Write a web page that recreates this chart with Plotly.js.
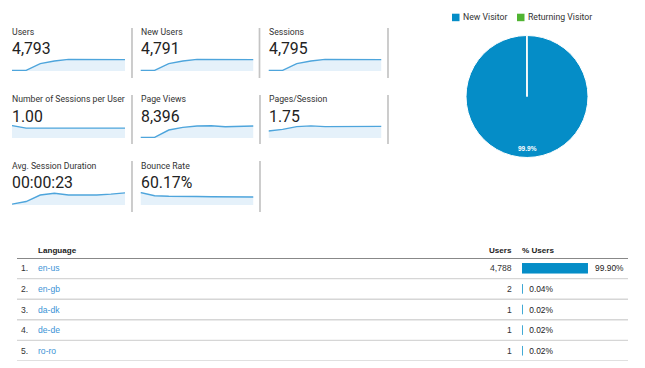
<!DOCTYPE html>
<html><head><meta charset="utf-8">
<script src="https://cdn.plot.ly/plotly-3.0.1.min.js"></script>
<style>html,body{margin:0;padding:0;background:#fff}#chart{width:645px;height:368px}</style>
</head><body><div id="chart"></div>
<script>
// ---------------- data ----------------
const metricLabels = ['Users', 'New Users', 'Sessions', 'Number of Sessions per User', 'Page Views', 'Pages/Session', 'Avg. Session Duration', 'Bounce Rate'];
const metricValues = ['4,793', '4,791', '4,795', '1.00', '8,396', '1.75', '00:00:23', '60.17%'];
const sparkX = [0, 1, 2, 3, 4, 5, 6, 7, 8];
const usersSeries = [42, 42, 466, 636, 742, 742, 700, 700, 721];
const newUsersSeries = [42, 42, 466, 636, 742, 742, 700, 699, 722];
const sessionsSeries = [42, 42, 467, 636, 742, 743, 700, 700, 723];
const sessionsPerUserSeries = [1.02, 1.00, 1.00, 1.00, 1.00, 1.00, 1.00, 1.00, 1.00];
const pageViewsSeries = [71, 71, 850, 1133, 1275, 1310, 1204, 1204, 1278];
const pagesPerSessionSeries = [1.05, 1.30, 1.70, 1.82, 1.70, 1.70, 1.70, 1.70, 1.74];
const avgDurationSeries = [2, 8, 23, 27, 23, 23, 23, 25, 28];
const bounceRateSeries = [75, 62, 60, 58, 59, 58, 58, 57, 57];

const visitorTypes = ['New Visitor', 'Returning Visitor'];
const visitorCounts = [4791, 4];
const visitorColors = ['#058dc7', '#50b432'];

const languages = ['en-us', 'en-gb', 'da-dk', 'de-de', 'ro-ro'];
const languageUsers = [4788, 2, 1, 1, 1];
const languagePct = [99.90, 0.04, 0.02, 0.02, 0.02];

// ---------------- layout helpers ----------------
const W = 645, H = 368;
const px = x => x / W, py = y => 1 - y / H;
const series = [usersSeries, newUsersSeries, sessionsSeries, sessionsPerUserSeries, pageViewsSeries, pagesPerSessionSeries, avgDurationSeries, bounceRateSeries];
const colX = [12, 140.5, 268.5];
const sparkW = 113;
const rowSpark = [[57, 71], [125, 138], [192, 205]];
const rowLabelY = [32, 98.5, 165.5];
const rowValueY = [48.5, 116.5, 183];
const sparkRanges = [[0, 890], [0, 890], [0, 890], [0.92, 1.025], [0, 1385], [0, 1.95], [0, 30], [25, 77]];

const data = [];
const layout = {
  width: W, height: H, margin: {l: 0, r: 0, t: 0, b: 0},
  paper_bgcolor: '#fff', plot_bgcolor: 'rgba(0,0,0,0)',
  showlegend: false, hovermode: false,
  annotations: [], shapes: []
};
const tileFont = 'Roboto, Arial, sans-serif';
const tableFont = 'Arial, "Liberation Sans", sans-serif';

series.forEach((s, i) => {
  const r = Math.floor(i / 3), c = i % 3;
  const n = i + 1;
  const xa = n === 1 ? 'x' : 'x' + n, ya = n === 1 ? 'y' : 'y' + n;
  data.push({
    type: 'scatter', mode: 'lines', x: sparkX, y: s, xaxis: xa, yaxis: ya,
    fill: 'tozeroy', fillcolor: '#e5f1fa',
    line: {color: '#4ea5dc', width: 1.4}, hoverinfo: 'skip'
  });
  const xk = n === 1 ? 'xaxis' : 'xaxis' + n, yk = n === 1 ? 'yaxis' : 'yaxis' + n;
  layout[xk] = {domain: [px(colX[c]), px(colX[c] + sparkW)], range: [0, 8], visible: false, fixedrange: true, anchor: ya};
  layout[yk] = {domain: [py(rowSpark[r][1]), py(rowSpark[r][0])], range: sparkRanges[i], visible: false, fixedrange: true, anchor: xa};
  layout.annotations.push({
    xref: 'paper', yref: 'paper', x: px(colX[c] - 2), y: py(rowLabelY[r]), xanchor: 'left', yanchor: 'middle',
    text: metricLabels[i], showarrow: false, font: {family: tileFont, size: 8.7, color: '#333'}
  });
  layout.annotations.push({
    xref: 'paper', yref: 'paper', x: px(colX[c] - 2), y: py(rowValueY[r]), xanchor: 'left', yanchor: 'middle',
    text: metricValues[i], showarrow: false, font: {family: tileFont, size: 15.8, color: '#222'}
  });
});

// tile dividers
const divRows = [{xs: [132, 259.5, 388], y: [28, 78]}, {xs: [132, 260, 388], y: [95, 144]}, {xs: [132, 260], y: [161, 212]}];
divRows.forEach(d => d.xs.forEach(x => layout.shapes.push({
  type: 'line', xref: 'paper', yref: 'paper', x0: px(x), x1: px(x), y0: py(d.y[0]), y1: py(d.y[1]),
  line: {color: '#c4c4c4', width: 1.7}
})));

// pie
const visitorTotal = visitorCounts.reduce((a, b) => a + b, 0);
data.push({
  type: 'pie', labels: visitorTypes, values: visitorCounts, sort: false, direction: 'clockwise', rotation: 0,
  domain: {x: [px(466), px(588)], y: [py(157.5), py(35.5)]},
  marker: {colors: visitorColors, line: {color: '#fff', width: 1}},
  textinfo: 'none', hoverinfo: 'skip'
});
layout.annotations.push({
  xref: 'paper', yref: 'paper', x: px(527), y: py(148), xanchor: 'center', yanchor: 'middle',
  text: '<b>' + (100 * visitorCounts[0] / visitorTotal).toFixed(1) + '%</b>', showarrow: false,
  font: {family: tableFont, size: 6.5, color: '#fff'}
});
// legend
const legX = [452, 517];
visitorTypes.forEach((t, i) => {
  layout.shapes.push({type: 'rect', xref: 'paper', yref: 'paper', x0: px(legX[i]), x1: px(legX[i] + 7.5), y0: py(21.2), y1: py(13.7), fillcolor: visitorColors[i], line: {width: 0}});
  layout.annotations.push({xref: 'paper', yref: 'paper', x: px(legX[i] + 8.5), y: py(17.5), xanchor: 'left', yanchor: 'middle', text: t, showarrow: false, font: {family: tileFont, size: 8.7, color: '#333'}});
});

// language bar table
data.push({
  type: 'bar', orientation: 'h', x: languagePct, y: languages, xaxis: 'x9', yaxis: 'y9', width: 0.46,
  marker: {color: '#058dc7', line: {color: '#058dc7', width: 1}},
  text: languagePct.map(v => '\u2002' + v.toFixed(2) + '%'), textposition: 'outside', cliponaxis: false, constraintext: 'none',
  textfont: {family: tableFont, size: 8.4, color: '#222'}, hoverinfo: 'skip'
});
layout.xaxis9 = {domain: [px(522), px(588)], range: [0, 100], visible: false, fixedrange: true, anchor: 'y9'};
layout.yaxis9 = {domain: [py(361), py(258)], type: 'category', categoryorder: 'array', categoryarray: languages, range: [4.5, -0.5], visible: false, fixedrange: true, anchor: 'x9'};

// header
const hdrFont = {family: tableFont, size: 8.1, color: '#222'};
layout.annotations.push({xref: 'paper', yref: 'paper', x: px(35.5), y: py(250), xanchor: 'left', yanchor: 'middle', text: '<b>Language</b>', showarrow: false, font: hdrFont});
layout.annotations.push({xref: 'paper', yref: 'paper', x: px(514), y: py(250), xanchor: 'right', yanchor: 'middle', text: '<b>Users</b>', showarrow: false, font: hdrFont});
layout.annotations.push({xref: 'paper', yref: 'paper', x: px(520), y: py(250), xanchor: 'left', yanchor: 'middle', text: '<b>% Users</b>', showarrow: false, font: hdrFont});
layout.shapes.push({type: 'line', xref: 'paper', yref: 'y9', x0: px(17), x1: px(628), y0: -0.5, y1: -0.5, line: {color: '#888', width: 2}});

const rowFont = {family: tableFont, size: 8.6, color: '#333'};
languages.forEach((lang, i) => {
  layout.annotations.push({xref: 'paper', yref: 'y9', x: px(29.5), y: i, xanchor: 'right', yanchor: 'middle', text: (i + 1) + '.', showarrow: false, font: rowFont});
  layout.annotations.push({xref: 'paper', yref: 'y9', x: px(35.5), y: i, xanchor: 'left', yanchor: 'middle', text: lang, showarrow: false, font: {family: tableFont, size: 8.6, color: '#3d94d6'}});
  layout.annotations.push({xref: 'paper', yref: 'y9', x: px(513.5), y: i, xanchor: 'right', yanchor: 'middle', text: languageUsers[i].toLocaleString('en-US'), showarrow: false, font: rowFont});
  layout.shapes.push({type: 'line', xref: 'paper', yref: 'y9', x0: px(17), x1: px(628), y0: i + 0.5, y1: i + 0.5, line: {color: '#d6d6d6', width: 1.4}});
});

Plotly.newPlot('chart', data, layout, {displayModeBar: false});
</script>
</body></html>
